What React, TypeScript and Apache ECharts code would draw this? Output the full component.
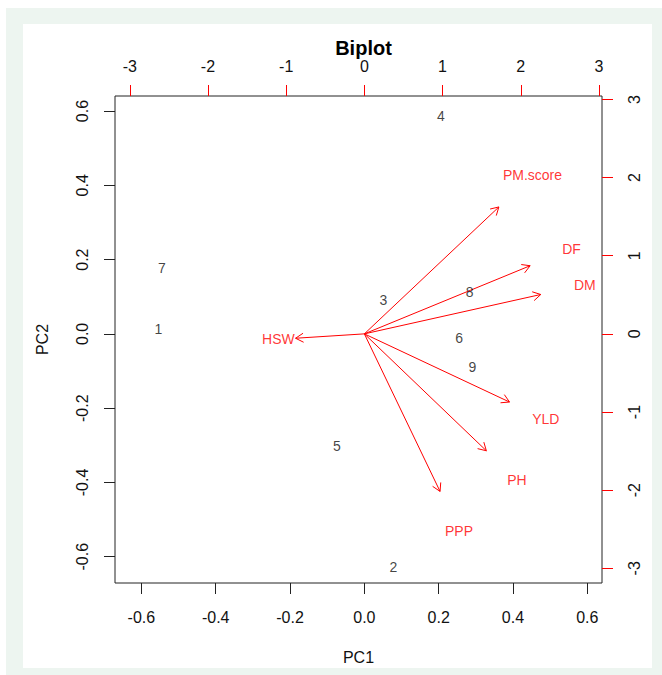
import React, { useEffect, useRef } from "react";
import * as echarts from "echarts";

// Observation scores (plotted on bottom / left axes)
const obsNames = ["1", "2", "3", "4", "5", "6", "7", "8", "9"];
const obsPC1 = [-0.554, 0.078, 0.051, 0.206, -0.074, 0.255, -0.545, 0.283, 0.291];
const obsPC2 = [0.012, -0.628, 0.091, 0.587, -0.302, -0.012, 0.177, 0.114, -0.088];

// Variable loadings (plotted on top / right axes); arrows reach 0.8 of them
const varNames = ["PM.score", "DF", "DM", "HSW", "YLD", "PH", "PPP"];
const varPC1 = [2.15, 2.65, 2.82, -1.1, 2.32, 1.95, 1.21];
const varPC2 = [2.03, 1.09, 0.63, -0.07, -1.09, -1.87, -2.52];

// Tick values
const scoreTicks = [-0.6, -0.4, -0.2, 0, 0.2, 0.4, 0.6];
const loadTicks = [-3, -2, -1, 0, 1, 2, 3];

const FONT = "Arial, 'Liberation Sans', Helvetica, sans-serif";
const RED = "#ff0000";
const INK = "#111111";

export default function App() {
  const ref = useRef<HTMLDivElement>(null);

  useEffect(() => {
    if (!ref.current) return;
    const chart = echarts.init(ref.current, undefined, { renderer: "svg" });

    const option: any = {
      animation: false,
      backgroundColor: "#ffffff",
      textStyle: { fontFamily: FONT },
      graphic: {
        elements: [
          { type: "rect", z: -100, silent: true, shape: { x: 6, y: 8, width: 656, height: 667 }, style: { fill: "#edf5f0" } },
          { type: "rect", z: -99, silent: true, shape: { x: 23, y: 24, width: 629, height: 644 }, style: { fill: "#ffffff" } },
        ],
      },
      title: {
        text: "Biplot",
        left: 358.5,
        top: 33,
        textAlign: "center",
        textStyle: { fontSize: 20, fontWeight: "bold", color: "#000", fontFamily: FONT },
      },
      grid: {
        left: 115,
        top: 96,
        width: 487,
        height: 487,
        show: true,
        borderColor: "#222",
        borderWidth: 1,
        backgroundColor: "transparent",
        outerBoundsMode: "none",
      },
      xAxis: [
        {
          type: "value",
          position: "bottom",
          min: -0.671,
          max: 0.6395,
          axisLine: { show: false, onZero: false },
          axisTick: { show: true, length: 11, customValues: scoreTicks, lineStyle: { color: "#222" } },
          axisLabel: {
            customValues: scoreTicks,
            formatter: (v: number) => v.toFixed(1),
            fontSize: 16,
            color: INK,
            margin: 26,
            fontFamily: FONT,
          },
          splitLine: { show: false },
          name: "PC1",
          nameLocation: "middle",
          nameGap: 66,
          nameTextStyle: { fontSize: 16, color: INK, fontFamily: FONT },
        },
        {
          type: "value",
          position: "top",
          min: -3.189,
          max: 3.039,
          axisLine: { show: false, onZero: false },
          axisTick: { show: true, length: 11, customValues: loadTicks, lineStyle: { color: RED } },
          axisLabel: {
            customValues: loadTicks,
            formatter: (v: number) => String(Math.round(v)),
            fontSize: 16,
            color: INK,
            margin: 22,
            fontFamily: FONT,
          },
          splitLine: { show: false },
        },
      ],
      yAxis: [
        {
          type: "value",
          position: "left",
          min: -0.6707,
          max: 0.6405,
          axisLine: { show: false, onZero: false },
          axisTick: { show: true, length: 11, customValues: scoreTicks, lineStyle: { color: "#222" } },
          axisLabel: {
            customValues: scoreTicks,
            formatter: (v: number) => v.toFixed(1),
            fontSize: 16,
            color: INK,
            margin: 25,
            rotate: 90,
            fontFamily: FONT,
          },
          splitLine: { show: false },
          name: "PC2",
          nameLocation: "middle",
          nameRotate: 90,
          nameGap: 65,
          nameTextStyle: { fontSize: 16, color: INK, fontFamily: FONT },
        },
        {
          type: "value",
          position: "right",
          min: -3.188,
          max: 3.044,
          axisLine: { show: false, onZero: false },
          axisTick: { show: true, length: 11, customValues: loadTicks, lineStyle: { color: RED } },
          axisLabel: {
            customValues: loadTicks,
            formatter: (v: number) => String(Math.round(v)),
            fontSize: 16,
            color: INK,
            margin: 24,
            rotate: 90,
            fontFamily: FONT,
          },
          splitLine: { show: false },
        },
      ],
      series: [
        {
          type: "custom",
          xAxisIndex: 1,
          yAxisIndex: 1,
          silent: true,
          data: varPC1.map((x, i) => [x * 0.8, varPC2[i] * 0.8]),
          renderItem: (params: any, api: any) => {
            const o = api.coord([0, 0]);
            const t = api.coord([api.value(0), api.value(1)]);
            const ang = Math.atan2(t[1] - o[1], t[0] - o[0]);
            const L = 9;
            const a = Math.PI / 6;
            const p1 = [t[0] - L * Math.cos(ang - a), t[1] - L * Math.sin(ang - a)];
            const p2 = [t[0] - L * Math.cos(ang + a), t[1] - L * Math.sin(ang + a)];
            return {
              type: "group",
              children: [
                { type: "line", shape: { x1: o[0], y1: o[1], x2: t[0], y2: t[1] }, style: { stroke: RED, lineWidth: 1 } },
                { type: "polyline", shape: { points: [p1, t, p2] }, style: { stroke: RED, lineWidth: 1, fill: null } },
              ],
            };
          },
        },
        {
          type: "scatter",
          xAxisIndex: 1,
          yAxisIndex: 1,
          silent: true,
          symbol: "circle",
          symbolSize: 1,
          itemStyle: { color: "rgba(0,0,0,0)" },
          data: varNames.map((n, i) => ({ name: n, value: [varPC1[i], varPC2[i]] })),
          label: { show: true, position: "inside", formatter: "{b}", color: RED, fontSize: 14, fontFamily: FONT },
        },
        {
          type: "scatter",
          xAxisIndex: 0,
          yAxisIndex: 0,
          silent: true,
          symbol: "circle",
          symbolSize: 1,
          itemStyle: { color: "rgba(0,0,0,0)" },
          data: obsNames.map((n, i) => ({ name: n, value: [obsPC1[i], obsPC2[i]] })),
          label: { show: true, position: "inside", formatter: "{b}", color: INK, fontSize: 14, fontFamily: FONT },
        },
      ],
    };

    chart.setOption(option);
    return () => chart.dispose();
  }, []);

  return (
    <div
      ref={ref}
      style={{ position: "fixed", left: 0, top: 0, width: 662, height: 675 }}
    />
  );
}
